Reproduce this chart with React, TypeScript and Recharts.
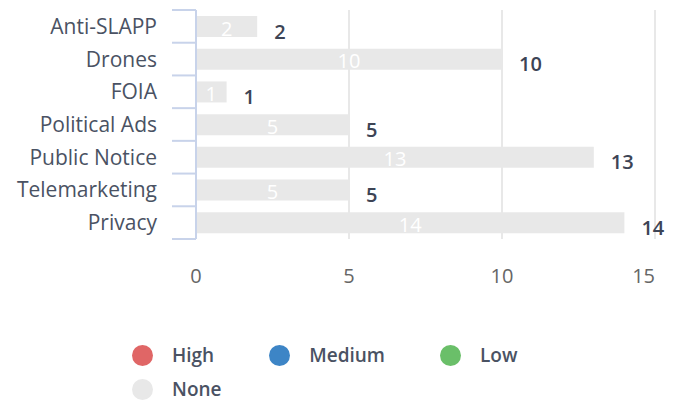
import React from 'react';
import { BarChart, Bar, XAxis, YAxis, CartesianGrid, LabelList } from 'recharts';

const categories = ['Anti-SLAPP', 'Drones', 'FOIA', 'Political Ads', 'Public Notice', 'Telemarketing', 'Privacy'];
const highValues = [0, 0, 0, 0, 0, 0, 0];
const mediumValues = [0, 0, 0, 0, 0, 0, 0];
const lowValues = [0, 0, 0, 0, 0, 0, 0];
const noneValues = [2, 10, 1, 5, 13, 5, 14];
const xTicks = [0, 5, 10, 15];
const seriesNames = ['High', 'Medium', 'Low', 'None'];
const seriesColors = ['#e06666', '#3d85c6', '#6abf69', '#e8e8e8'];

const data = categories.map((c, i) => ({
  name: c,
  High: highValues[i],
  Medium: mediumValues[i],
  Low: lowValues[i],
  None: noneValues[i],
  total: highValues[i] + mediumValues[i] + lowValues[i] + noneValues[i],
}));

const FONT = '"Open Sans", "Noto Sans", sans-serif';
const AXIS_BLUE = '#c8d3ea';

const CategoryTick = (props: any) => {
  const { x, y, payload, index, visibleTicksCount } = props;
  const off = payload.offset || 0;
  return (
    <g>
      <text x={x} y={y} dy={7.5} textAnchor="end" fill="#4a5263" fontSize={21} fontFamily={FONT}>
        {payload.value}
      </text>
      <line x1={x + 15} x2={x + 39} y1={y - off} y2={y - off} stroke={AXIS_BLUE} strokeWidth={2} />
      {index === visibleTicksCount - 1 && (
        <line x1={x + 15} x2={x + 39} y1={y + off} y2={y + off} stroke={AXIS_BLUE} strokeWidth={2} />
      )}
    </g>
  );
};

const ValueTick = (props: any) => {
  const { x, y, payload, index, visibleTicksCount } = props;
  const last = index === visibleTicksCount - 1;
  return (
    <text
      x={x}
      y={y}
      dy={15}
      textAnchor={last ? 'end' : 'middle'}
      fill="#666666"
      fontSize={20}
      fontFamily={FONT}
    >
      {payload.value}
    </text>
  );
};

const LegendBox = () => (
  <div
    style={{
      position: 'absolute',
      left: 132,
      top: 338,
      display: 'flex',
      flexWrap: 'wrap',
      width: 460,
      fontFamily: FONT,
    }}
  >
    {seriesNames.map((n, i) => (
      <div key={n} style={{ display: 'flex', alignItems: 'center', marginRight: 55, height: 34 }}>
        <span
          style={{
            display: 'inline-block',
            width: 21,
            height: 21,
            borderRadius: '50%',
            background: seriesColors[i],
            marginRight: 19,
          }}
        />
        <span style={{ fontSize: 19, fontWeight: 600, color: '#4a5263' }}>{n}</span>
      </div>
    ))}
  </div>
);

export default function App() {
  return (
    <div style={{ position: 'absolute', left: 0, top: 0, width: 683, height: 401, background: '#fff' }}>
      <BarChart
        width={683}
        height={401}
        data={data}
        layout="vertical"
        margin={{ top: 10, right: 28, left: 0, bottom: 101 }}
        barSize={21}
      >
        <CartesianGrid horizontal={false} stroke="#e8e8e8" strokeWidth={2} />
        <XAxis
          type="number"
          domain={[0, 15]}
          ticks={xTicks}
          axisLine={false}
          tickLine={false}
          tickSize={0}
          tickMargin={29}
          height={61}
          tick={<ValueTick />}
        />
        <YAxis
          type="category"
          dataKey="name"
          width={196}
          axisLine={{ stroke: AXIS_BLUE, strokeWidth: 2 }}
          tickLine={false}
          tickSize={24}
          tickMargin={15}
          tick={<CategoryTick />}
          interval={0}
        />
        <Bar dataKey="High" stackId="a" fill={seriesColors[0]} isAnimationActive={false} />
        <Bar dataKey="Medium" stackId="a" fill={seriesColors[1]} isAnimationActive={false} />
        <Bar dataKey="Low" stackId="a" fill={seriesColors[2]} isAnimationActive={false} />
        <Bar dataKey="None" stackId="a" fill={seriesColors[3]} isAnimationActive={false}>
          <LabelList dataKey="None" position="center" dy={2} fill="#ffffff" fontSize={20} fontFamily={FONT} />
          <LabelList
            dataKey="total"
            position="right"
            offset={17}
            dy={5}
            fill="#3d4455"
            fontSize={20}
            fontWeight={600}
            fontFamily={FONT}
          />
        </Bar>
      </BarChart>
      <LegendBox />
    </div>
  );
}
